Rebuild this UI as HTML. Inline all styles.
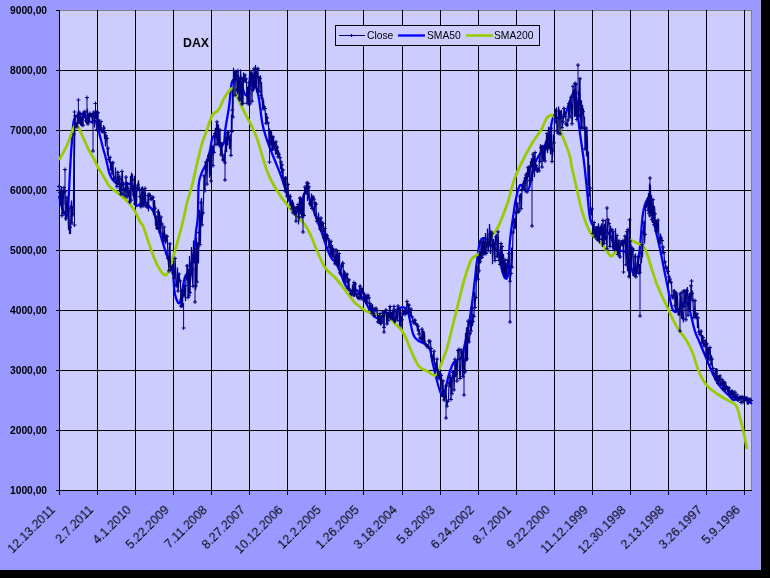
<!DOCTYPE html>
<html><head><meta charset="utf-8"><style>
html,body{margin:0;padding:0;}
div{-webkit-font-smoothing:antialiased;will-change:transform;}
body{width:770px;height:578px;background:#000;position:relative;overflow:hidden;font-family:"Liberation Sans",sans-serif;}
#bg{position:absolute;left:0;top:0;width:761px;height:570px;background:#9999FF;}
svg{position:absolute;left:0;top:0;}
.yl{position:absolute;right:723.2px;font-weight:bold;font-size:10.25px;line-height:12px;color:#000;white-space:nowrap;}
.xl{position:absolute;font-size:12.4px;line-height:12.4px;color:#000;white-space:nowrap;transform-origin:100% 50%;transform:translateY(-50%) rotate(-45deg);}
#title{position:absolute;left:183.3px;top:36px;font-weight:bold;font-size:12.3px;line-height:14px;color:#000;}
.lg{position:absolute;top:30px;font-size:10.3px;line-height:12px;color:#000;white-space:nowrap;}
</style></head><body>
<div id="bg"></div>
<svg width="770" height="578" viewBox="0 0 770 578">
<rect x="59.5" y="10.5" width="692" height="480" fill="#CCCCFF" stroke="#808080" stroke-width="1"/>
<path d="M59 70.5H751 M59 130.5H751 M59 190.5H751 M59 250.5H751 M59 310.5H751 M59 370.5H751 M59 430.5H751 M97.5 10V490 M135.5 10V490 M173.5 10V490 M211.5 10V490 M249.5 10V490 M287.5 10V490 M325.5 10V490 M363.5 10V490 M402.5 10V490 M440.5 10V490 M478.5 10V490 M516.5 10V490 M554.5 10V490 M592.5 10V490 M630.5 10V490 M668.5 10V490 M706.5 10V490 M744.5 10V490" stroke="#000" stroke-width="1" fill="none"/>
<path d="M59.5 10V491M59 490.5H752 M56 10.5H59 M56 70.5H59 M56 130.5H59 M56 190.5H59 M56 250.5H59 M56 310.5H59 M56 370.5H59 M56 430.5H59 M56 490.5H59 M59.5 490V495 M97.5 490V495 M135.5 490V495 M173.5 490V495 M211.5 490V495 M249.5 490V495 M287.5 490V495 M325.5 490V495 M363.5 490V495 M402.5 490V495 M440.5 490V495 M478.5 490V495 M516.5 490V495 M554.5 490V495 M592.5 490V495 M630.5 490V495 M668.5 490V495 M706.5 490V495 M744.5 490V495" stroke="#000" stroke-width="1" fill="none"/>
<path d="M59 196 C59.4 197.5 60.3 202.2 61.2 205 C62.1 207.8 63.2 211.4 64.3 213 C65.3 214.6 66.7 218.2 67.5 214.5 C68.3 210.8 68.5 200.1 69 191 C69.5 181.9 70.1 168.5 70.6 160 C71.1 151.5 71.5 146.5 72 140 C72.5 133.5 72.9 125.2 73.7 121.2 C74.5 117.2 75.4 116.9 76.8 115.7 C78.2 114.5 80.7 113.7 82.3 114.2 C83.9 114.8 84.8 117.7 86.2 119 C87.6 120.3 89.4 121.6 90.9 122 C92.5 122.4 94.3 120.2 95.5 121.2 C96.7 122.2 97.1 125.4 97.9 128.2 C98.7 131 99.7 134.7 100.5 138 C101.3 141.3 102.1 144.5 103 148 C103.9 151.5 104.8 154.2 106 158.8 C107.2 163.4 108.4 171.2 110.2 175.4 C112 179.6 114.1 182.3 117.1 183.7 C120.1 185.1 125.6 183.2 128.2 183.7 C130.8 184.1 131.2 182.9 132.4 186.4 C133.6 189.9 134.3 201.5 135.5 204.5 C136.7 207.5 138.1 205.2 139.4 204.5 C140.7 203.8 141.8 200.4 143.3 200.6 C144.8 200.8 146.8 203.9 148.5 205.8 C150.2 207.7 151.9 208 153.7 212 C155.4 216 156.8 222.9 159 230 C161.2 237.1 164.5 248.5 166.7 254.8 C168.9 261.1 171.1 262.1 172.4 268 C173.7 273.9 173.7 285 174.3 290 C174.9 295 175.1 295.9 176 298 C176.9 300.1 178.5 305.8 180 302.4 C181.5 299 183.2 283 184.8 277.6 C186.4 272.2 187.9 274.8 189.5 270 C191.1 265.2 193.2 255.7 194.3 249 C195.4 242.3 195.6 235.5 196.2 230 C196.8 224.5 197.5 223.5 197.9 216 C198.3 208.5 198 192.3 198.7 185 C199.4 177.7 200.7 175.7 201.9 172.3 C203.1 168.9 204.5 167.9 205.8 164.5 C207.1 161.1 208.6 155.9 209.7 151.6 C210.8 147.3 211.2 141.3 212.3 138.6 C213.4 135.9 214.9 134 216.2 135.3 C217.5 136.6 218.8 145.2 220.1 146.4 C221.4 147.6 223.1 145.3 224 142.5 C224.9 139.7 224.5 135.4 225.3 129.5 C226.1 123.6 227.9 114.7 229 107 C230.1 99.3 230.7 88.1 231.6 83.6 C232.5 79 232.9 80.3 234.2 79.7 C235.5 79.1 238.1 78.6 239.4 79.7 C240.7 80.8 240.9 83.6 242 86.2 C243.1 88.8 244.5 95.5 245.8 95.3 C247.1 95.1 248.6 87.6 249.7 84.9 C250.8 82.2 251.4 79.4 252.3 79 C253.2 78.6 253.8 79.1 254.9 82.3 C256 85.5 257.5 90.8 258.8 97.9 C260.1 105 261.1 117.4 262.7 125 C264.3 132.6 266.2 137.7 268.2 143.5 C270.2 149.3 272.6 154.7 274.7 160 C276.8 165.3 278.8 169.9 280.9 175.6 C283 181.3 285.3 189.1 287.1 194.3 C288.9 199.5 290.5 203.3 291.8 206.7 C293.1 210.1 293.6 214.5 294.9 214.5 C296.2 214.5 298 210.1 299.6 206.7 C301.2 203.3 303 196.5 304.3 194.3 C305.6 192.1 306.2 191.9 307.4 193.5 C308.6 195.1 309.8 199.3 311.3 203.6 C312.9 207.9 315 214.5 316.7 219.2 C318.4 223.9 319.8 227.3 321.4 231.7 C323 236.1 324.5 241.4 326.1 245.7 C327.7 249.9 329.2 254.2 330.8 257.2 C332.4 260.1 334.4 261 336 263.4 C337.6 265.8 338.6 268.1 340.1 271.7 C341.7 275.3 343.4 281.7 345.3 285 C347.2 288.3 349.4 290.5 351.3 291.3 C353.2 292.1 355 289.4 356.5 290 C358 290.6 358.8 292.8 360.4 295 C362 297.2 364.1 299.9 366 303 C367.9 306.1 369.9 311.3 372.1 313.9 C374.3 316.5 377.2 318.5 379.4 318.7 C381.6 318.9 383.2 316.1 385.4 315.1 C387.6 314.1 390.3 313.9 392.7 312.7 C395.1 311.5 398 308.6 400 307.8 C402 307 403.4 306.8 404.8 307.8 C406.2 308.8 407 309.4 408.4 313.9 C409.8 318.3 411.7 330.1 413.3 334.5 C414.9 338.9 416.1 338.9 418.1 340.5 C420.1 342.1 423.4 342.6 425.4 344.2 C427.4 345.8 428.9 346.6 430.2 350 C431.5 353.4 431.1 357.2 433.1 364.9 C435.1 372.6 439.6 394.4 442.2 396.1 C444.8 397.8 446.8 380.9 448.7 375.3 C450.6 369.7 451.7 365.3 453.9 362.3 C456.1 359.3 460 359.7 461.7 357.1 C463.4 354.5 463 352.9 464.3 346.8 C465.6 340.8 467.9 330.3 469.5 320.8 C471.1 311.3 472.5 299.8 473.7 290 C474.9 280.2 475.8 270.3 476.8 262.3 C477.8 254.3 478.7 246 479.9 242 C481.1 238 482.5 238.3 483.8 238.2 C485.1 238.1 486.3 239.9 487.7 241.3 C489.1 242.7 490.6 244.8 492.4 246.7 C494.2 248.6 497.1 249.3 498.6 252.9 C500.2 256.5 500.7 264.3 501.7 268.5 C502.7 272.7 503.8 276.8 504.8 277.9 C505.9 278.9 507.2 280 508 274.8 C508.8 269.6 509 254 509.5 246.7 C510 239.4 510.3 237.4 511.1 231.2 C511.9 225 513.4 214.5 514.2 209.3 C515 204.1 514.7 204.1 515.7 200 C516.7 195.9 518.2 186.6 520.3 185 C522.4 183.4 525.7 193.8 528.1 190.3 C530.5 186.9 531.9 171.7 534.6 164.3 C537.3 157 542 151.5 544.5 146.2 C547 140.9 548.3 137.4 549.7 132.7 C551.1 128 551.6 120.5 553 118 C554.4 115.5 556.1 118.3 558 118 C559.9 117.7 562.6 118.6 564.5 116 C566.4 113.4 567.7 106.6 569.4 102.3 C571.1 98 573.5 90.9 574.6 90.2 C575.8 89.5 575.7 93.8 576.3 98 C576.9 102.2 577.4 109.7 578 115.3 C578.6 120.9 578.8 123.9 579.8 131.7 C580.8 139.4 582.8 152.1 584 161.8 C585.2 171.5 586 180.6 587 190 C588 199.4 588.7 211.8 590 218 C591.3 224.2 592.6 225.6 594.7 227.4 C596.8 229.2 599.9 227.6 602.5 228.9 C605.1 230.2 608.1 231.8 610.2 235.2 C612.3 238.6 613.3 246.6 614.9 249.2 C616.5 251.8 617.8 250.2 619.6 250.7 C621.4 251.2 624 250 625.8 252.3 C627.6 254.7 629.2 261.2 630.5 264.8 C631.8 268.4 632.6 273.6 633.6 274.1 C634.6 274.6 635.7 272 636.7 267.9 C637.7 263.8 638.8 258.3 639.8 249.2 C640.8 240.1 641.7 221.7 643 213.4 C644.3 205.1 646.4 200.9 647.6 199.3 C648.8 197.7 648.7 199.1 650 204 C651.3 208.9 653.7 221.4 655.4 228.9 C657.1 236.4 658.8 243.2 660.1 249.2 C661.4 255.2 662.2 259.7 663.2 264.8 C664.2 269.9 664.7 272.6 666.3 280 C667.9 287.4 670.5 304.6 672.6 309.5 C674.7 314.4 676.9 310.8 679.1 309.5 C681.3 308.2 683.9 301.7 685.6 301.7 C687.3 301.7 688 304.7 689.5 309.5 C691 314.3 693 324.7 694.7 330.3 C696.4 335.9 698 338.3 699.9 343 C701.8 347.7 704.2 353.4 706.4 358.6 C708.6 363.8 710.5 369.4 712.9 374.2 C715.3 378.9 718 383.7 720.6 387.1 C723.2 390.6 726.2 392.7 728.4 394.9 C730.6 397.1 731.9 399.7 733.6 400.1 C735.3 400.5 736.6 397.7 738.8 397.5 C741 397.3 744.4 397.7 746.6 398.8 C748.8 399.9 750.9 403.1 751.8 404" stroke="#0000FF" stroke-width="2.3" fill="none" stroke-linejoin="round"/>
<path d="M59 160 C60.3 157.7 64 151.8 66.7 146 C69.4 140.2 72.9 127.5 75.3 125.3 C77.7 123.1 78.8 128.9 81 133 C83.2 137.1 86.6 145.7 88.8 150 C91 154.3 92.5 156.2 94 159 C95.5 161.8 96 163.5 97.9 167 C99.8 170.5 103.7 176.8 105.6 180 C107.5 183.2 107.8 184.5 109.5 186.4 C111.2 188.3 113.6 189.7 116 191.6 C118.4 193.5 121.4 195.8 123.8 198 C126.2 200.2 128.4 202.1 130.3 204.5 C132.2 206.9 133.8 209.2 135.5 212.3 C137.2 215.4 139.4 220.7 140.7 223 C142 225.3 141.6 222 143.3 226.4 C145 230.8 148.5 242.8 151.1 249.7 C153.7 256.6 156.3 263.9 158.9 268 C161.5 272.1 164.1 277 166.7 274.4 C169.3 271.8 171.9 260.7 174.5 252.3 C177.1 243.9 180.1 232.4 182.3 223.8 C184.5 215.2 185.8 207.5 187.5 201 C189.2 194.5 190.6 191.1 192.2 185 C193.8 178.9 195.2 171.4 196.8 164.5 C198.4 157.6 200.2 149.6 201.9 143.8 C203.6 138 205.4 134.3 207.1 129.5 C208.8 124.7 210.4 118.5 212.3 115.2 C214.2 111.9 216.5 112.6 218.6 109.5 C220.7 106.4 222.9 100.1 225.1 96.6 C227.3 93.1 230 89.4 231.6 88.5 C233.2 87.6 233.3 88.8 234.8 91.4 C236.3 94.1 238.6 100.1 240.6 104.4 C242.6 108.7 244.9 113 247.1 117.3 C249.3 121.6 251.8 126.1 253.6 130 C255.4 133.9 255.8 134.8 257.8 140.9 C259.8 147.1 263.6 160.7 265.6 166.9 C267.6 173.1 267.7 173.4 270 178 C272.3 182.6 276.2 189.5 279.3 194.3 C282.4 199.1 285.8 203.1 288.7 206.7 C291.6 210.3 293.9 213.2 296.5 216.1 C299.1 219 302 220.8 304.3 223.9 C306.6 227 308.4 230.5 310.5 234.8 C312.6 239.2 314.2 244.5 316.7 250 C319.2 255.5 322.1 263.3 325.3 268 C328.5 272.7 332.2 274.4 335.7 278.3 C339.2 282.2 342.6 287 346.1 291.3 C349.6 295.6 352.2 300.5 356.5 304.3 C360.8 308.1 367.5 312.1 372.1 313.9 C376.7 315.7 381.2 314.3 384.2 315.1 C387.2 315.9 388.3 317.1 390.3 318.7 C392.3 320.3 394.5 323 396.3 324.8 C398.1 326.6 399.6 327.4 401.2 329.6 C402.8 331.8 404.4 334.7 406 338.1 C407.6 341.5 408.7 345.3 410.8 350 C412.9 354.7 416 362.6 418.8 366.2 C421.6 369.8 425.1 369.9 427.9 371.4 C430.7 372.9 433.5 376.4 435.7 375.3 C437.9 374.2 438.9 369.6 440.9 364.9 C442.8 360.1 445.2 354.1 447.4 346.8 C449.6 339.5 451.9 328.6 453.9 320.8 C455.8 313 457.6 306.2 459.1 300 C460.7 293.8 461.2 290.1 463.2 283.5 C465.2 276.9 468.4 265.1 471 260.1 C473.6 255.1 476.2 256.6 478.8 253.6 C481.4 250.6 483.6 246 486.6 241.9 C489.6 237.8 494 234.2 497 229 C500 223.8 502.8 215.6 504.7 210.8 C506.6 206 506.9 205.6 508.6 200 C510.3 194.4 512.2 184.9 515.1 177.3 C518 169.7 522.6 160.7 525.8 154.5 C529 148.3 531.5 144.2 534.1 140 C536.7 135.8 539.3 133.2 541.4 129.5 C543.5 125.8 545 120.4 546.6 118.1 C548.2 115.8 549.5 115.8 550.7 115.5 C551.9 115.2 552.6 114.3 553.8 116 C555 117.7 556.4 121.8 558 125.4 C559.6 129.1 561.3 133.1 563.2 137.9 C565.1 142.8 567.9 149.2 569.4 154.5 C570.9 159.8 571 163.6 572.3 169.5 C573.6 175.4 575.3 182.7 577 190 C578.7 197.3 580.5 206.4 582.7 213.4 C584.9 220.4 587.5 227.6 590 232 C592.5 236.4 595.2 236.9 597.8 239.8 C600.4 242.7 603.4 246.5 605.6 249.2 C607.8 251.9 609.2 255.9 611 256.2 C612.8 256.4 614.5 252.9 616.5 250.7 C618.5 248.5 620.6 244.8 622.7 243 C624.8 241.2 626.6 239.8 628.9 239.8 C631.2 239.8 634.4 241.9 636.7 243 C639.1 244.1 641.2 244 643 246.1 C644.8 248.2 646.4 252.2 647.6 255.4 C648.9 258.6 649.1 260.8 650.5 265 C651.9 269.2 653.8 275.7 655.7 280.9 C657.6 286.1 659.8 291 662 296 C664.2 301 666.5 305.8 669 311 C671.5 316.2 674.1 322.2 677 327 C679.9 331.8 683.6 335.8 686.2 340 C688.8 344.2 690.4 347.3 692.5 352.5 C694.6 357.7 696.3 365.7 698.7 371.2 C701.1 376.7 703.9 381.9 707 385.7 C710.1 389.5 713.9 391.6 717.4 394 C720.9 396.4 724.7 398.4 727.8 400.3 C730.9 402.2 734 402.4 736.1 405.5 C738.2 408.6 738.9 414 740.3 419 C741.7 424 743.3 430.6 744.4 435.6 C745.5 440.6 746.5 446.9 746.9 449.1" stroke="#99CC00" stroke-width="2.8" fill="none" stroke-linejoin="round"/>
<path d="M59 186.5 L59.5 185.2 L60 192.4 L60.5 205 L61 196.7 L61.5 186.3 L62 215.7 L62.5 189.5 L63 213.2 L63.5 193.3 L64 187.5 L64.5 193 L65 191.8 L65.5 220.7 L66 218.3 L66.5 204.3 L67 197.4 L67.5 202.3 L68 211.8 L68.5 230.1 L69 208.9 L69.5 234 L70 227.3 L70.5 234.1 L71 206.8 L71.5 200.5 L72 223 L72.5 206.6 L73 214.7 L73.5 199.7 L74 134 L74.5 156.9 L75 116 L75.5 128 L76 124.1 L76.5 124.3 L77 126.9 L77.5 113.4 L78 122.9 L78.5 116.5 L79 112.2 L79.5 124 L80 113.6 L80.5 125 L81 116.6 L81.5 125.1 L82 125 L82.5 115.8 L83 125.3 L83.5 111.8 L84 112.2 L84.5 116.5 L85 111.7 L85.5 113.9 L86 120.8 L86.5 123.2 L87 121.8 L87.5 108.5 L88 123.9 L88.5 123.7 L89 114.9 L89.5 121.5 L90 113.4 L90.5 114.8 L91 115.2 L91.5 115.1 L92 116.2 L92.5 124.2 L93 113.4 L93.5 114.9 L94 112.1 L94.5 127.6 L95 117.3 L95.5 110.1 L96 112.8 L96.5 112.1 L97 129.4 L97.5 113.3 L98 112.8 L98.5 130.5 L99 127.8 L99.5 119.3 L100 129.5 L100.5 129.9 L101 121.5 L101.5 131.8 L102 131 L102.5 132.4 L103 131.3 L103.5 125.2 L104 128.1 L104.5 139 L105 132.7 L105.5 146.4 L106 135.8 L106.5 136.3 L107 138.4 L107.5 155.6 L108 148.2 L108.5 159 L109 159.3 L109.5 162.9 L110 157.3 L110.5 167.1 L111 169.3 L111.5 161.5 L112 173.8 L112.5 161.6 L113 162.8 L113.5 177.4 L114 179.2 L114.5 178.7 L115 178.2 L115.5 167.4 L116 181.8 L116.5 186.3 L117 186.6 L117.5 171 L118 172.6 L118.5 184.6 L119 176.2 L119.5 191.9 L120 178.5 L120.5 193.3 L121 194 L121.5 186.3 L122 171.4 L122.5 174 L123 194.1 L123.5 181.9 L124 189.5 L124.5 188.1 L125 195.8 L125.5 190.8 L126 177.1 L126.5 188.2 L127 197 L127.5 181.8 L128 188.5 L128.5 196.6 L129 191.3 L129.5 202.5 L130 201.8 L130.5 175.7 L131 200.1 L131.5 172.6 L132 179.5 L132.5 173.9 L133 189.8 L133.5 195.9 L134 195 L134.5 175.7 L135 203.8 L135.5 205.9 L136 190.4 L136.5 205.9 L137 187.8 L137.5 185.2 L138 185.1 L138.5 180.3 L139 189.5 L139.5 186.7 L140 196.6 L140.5 207 L141 206.7 L141.5 187.3 L142 203.9 L142.5 186.3 L143 205.6 L143.5 189.1 L144 205.6 L144.5 202.8 L145 188.3 L145.5 193.8 L146 205.5 L146.5 205.3 L147 207.1 L147.5 208.3 L148 195.6 L148.5 211.5 L149 194 L149.5 196.1 L150 195.6 L150.5 196.9 L151 199.3 L151.5 199.7 L152 198.5 L152.5 196.7 L153 197.2 L153.5 215.3 L154 208.7 L154.5 200.1 L155 208.2 L155.5 226 L156 216.9 L156.5 229.6 L157 227.9 L157.5 224.8 L158 211.9 L158.5 209.1 L159 229.1 L159.5 211.9 L160 232 L160.5 230.5 L161 217 L161.5 223.2 L162 224 L162.5 239.8 L163 233.8 L163.5 242.4 L164 227.1 L164.5 230.5 L165 240.5 L165.5 244.1 L166 235.9 L166.5 242.3 L167 236.4 L167.5 241.3 L168 258.4 L168.5 264.7 L169 270.8 L169.5 247.1 L170 243.8 L170.5 266.8 L171 270.5 L171.5 265.8 L172 268.7 L172.5 264.3 L173 273.2 L173.5 275.2 L174 278.3 L174.5 277 L175 258.4 L175.5 266 L176 285.3 L176.5 283 L177 286.1 L177.5 267.5 L178 291 L178.5 287.3 L179 274.1 L179.5 278.8 L180 280.9 L180.5 282.2 L181 306.2 L181.5 290.2 L182 306.1 L182.5 306 L183 289.5 L183.5 293.6 L184 295.9 L184.5 286.2 L185 285.7 L185.5 301.3 L186 276.8 L186.5 280.3 L187 265.9 L187.5 264.3 L188 297.6 L188.5 269.3 L189 295.8 L189.5 256 L190 292.7 L190.5 278.9 L191 273.6 L191.5 246.9 L192 269.8 L192.5 281.1 L193 286.4 L193.5 240.4 L194 262.2 L194.5 248 L195 249.5 L195.5 290.5 L196 285.9 L196.5 237.3 L197 282 L197.5 242.3 L198 246.8 L198.5 263.5 L199 232.6 L199.5 209.8 L200 244.6 L200.5 241.7 L201 202.8 L201.5 198 L202 224.9 L202.5 216.6 L203 212.8 L203.5 200.2 L204 175.8 L204.5 180.6 L205 190.7 L205.5 162.4 L206 162.3 L206.5 165.8 L207 184.1 L207.5 160.3 L208 159.5 L208.5 161.3 L209 155.5 L209.5 177.7 L210 155.2 L210.5 175.6 L211 152.7 L211.5 149.3 L212 146.5 L212.5 146.5 L213 165.7 L213.5 145.2 L214 152.3 L214.5 137.7 L215 133.5 L215.5 127.9 L216 144.5 L216.5 124.1 L217 121.9 L217.5 128.6 L218 144.3 L218.5 124.3 L219 143.8 L219.5 135.8 L220 130 L220.5 152 L221 154.9 L221.5 142.1 L222 143.9 L222.5 159.4 L223 160 L223.5 160.6 L224 155.2 L224.5 160.6 L225 162.8 L225.5 139.9 L226 137.7 L226.5 152.2 L227 132.8 L227.5 145.4 L228 132.4 L228.5 130.1 L229 138.3 L229.5 149.2 L230 140.5 L230.5 134.2 L231 155.4 L231.5 114.6 L232 131.5 L232.5 89.8 L233 117 L233.5 67.8 L234 79.8 L234.5 71.2 L235 95.2 L235.5 70.3 L236 71.6 L236.5 70.5 L237 90 L237.5 94.3 L238 70.7 L238.5 76.7 L239 98.2 L239.5 76.7 L240 100.2 L240.5 69.4 L241 77.7 L241.5 101 L242 104 L242.5 77.1 L243 103.3 L243.5 72.5 L244 81.1 L244.5 80.5 L245 75 L245.5 82.7 L246 78.9 L246.5 81.3 L247 103.3 L247.5 86.9 L248 88.4 L248.5 105.5 L249 82.7 L249.5 74.5 L250 103.9 L250.5 72.7 L251 72.2 L251.5 75.2 L252 101.2 L252.5 72.9 L253 89.8 L253.5 90.3 L254 68.8 L254.5 88.9 L255 86.1 L255.5 65.1 L256 75.9 L256.5 92.3 L257 69.5 L257.5 77.8 L258 68.7 L258.5 89.9 L259 91.6 L259.5 76.2 L260 78.4 L260.5 75.3 L261 95.7 L261.5 81.9 L262 98.1 L262.5 106.4 L263 108.9 L263.5 99.4 L264 106.8 L264.5 107.1 L265 108.5 L265.5 117.9 L266 123.3 L266.5 113 L267 118 L267.5 122.3 L268 123 L268.5 124.9 L269 140.9 L269.5 128.6 L270 144.9 L270.5 129.8 L271 143.6 L271.5 130.8 L272 149 L272.5 151 L273 136.9 L273.5 136.7 L274 148.9 L274.5 141.7 L275 144.5 L275.5 154.7 L276 141.9 L276.5 154.4 L277 147.4 L277.5 146.5 L278 156.8 L278.5 150.2 L279 154.2 L279.5 155.1 L280 157.8 L280.5 168.9 L281 161.9 L281.5 173.2 L282 164.8 L282.5 179.1 L283 169.9 L283.5 185.3 L284 181.9 L284.5 176.7 L285 191 L285.5 176.5 L286 178.1 L286.5 195.3 L287 196.1 L287.5 197.4 L288 184.4 L288.5 194.6 L289 199.4 L289.5 197.6 L290 196.5 L290.5 194.4 L291 204.6 L291.5 200.6 L292 208.8 L292.5 199.8 L293 212.8 L293.5 202.6 L294 207.3 L294.5 215.5 L295 208.2 L295.5 208 L296 221.2 L296.5 206 L297 208.9 L297.5 208 L298 204.6 L298.5 224.4 L299 216.9 L299.5 197.9 L300 198 L300.5 214.7 L301 199.7 L301.5 215.1 L302 217.2 L302.5 201.2 L303 215 L303.5 192.7 L304 215.4 L304.5 189.4 L305 187 L305.5 193.3 L306 192.4 L306.5 183.2 L307 182.8 L307.5 201.2 L308 183.3 L308.5 189.3 L309 186.9 L309.5 205.1 L310 203.7 L310.5 205.6 L311 205.7 L311.5 193.5 L312 208.4 L312.5 198 L313 196.9 L313.5 199.4 L314 199.1 L314.5 215.8 L315 202.8 L315.5 204.8 L316 204.2 L316.5 220.7 L317 221.4 L317.5 221.4 L318 218.1 L318.5 212.5 L319 221.1 L319.5 226.8 L320 228.9 L320.5 218.2 L321 218.1 L321.5 227.6 L322 231.1 L322.5 222.4 L323 223.3 L323.5 226.2 L324 237.9 L324.5 236.9 L325 228.5 L325.5 230.9 L326 235.3 L326.5 244.8 L327 235.7 L327.5 234.9 L328 238.7 L328.5 239.6 L329 247.3 L329.5 239.5 L330 244.5 L330.5 254.6 L331 241.3 L331.5 253.5 L332 256.5 L332.5 245 L333 256.8 L333.5 247.8 L334 250.6 L334.5 260.8 L335 263.8 L335.5 258.5 L336 249.9 L336.5 265 L337 261.7 L337.5 251 L338 264.9 L338.5 266.5 L339 253.6 L339.5 256.1 L340 272.8 L340.5 271.4 L341 274.2 L341.5 264.9 L342 265.9 L342.5 262.3 L343 263.3 L343.5 278.1 L344 280.1 L344.5 270.3 L345 274 L345.5 279.1 L346 282.2 L346.5 275.2 L347 274.4 L347.5 276.8 L348 288.6 L348.5 279.1 L349 279.9 L349.5 291.3 L350 290.2 L350.5 293.8 L351 293.7 L351.5 294.8 L352 294.4 L352.5 284.3 L353 293.3 L353.5 296.7 L354 282.5 L354.5 297.1 L355 284 L355.5 283.5 L356 294.5 L356.5 295.9 L357 294.2 L357.5 297 L358 297.7 L358.5 297.7 L359 298.4 L359.5 287.2 L360 286.2 L360.5 298.1 L361 298.6 L361.5 289.7 L362 288.7 L362.5 290 L363 292.8 L363.5 291.4 L364 300.3 L364.5 293 L365 297.7 L365.5 300.6 L366 295.5 L366.5 303 L367 302.8 L367.5 295.3 L368 295.3 L368.5 296.7 L369 297.8 L369.5 309.2 L370 303.4 L370.5 309.7 L371 305.3 L371.5 311.7 L372 313.3 L372.5 304 L373 309.1 L373.5 313.4 L374 315.7 L374.5 316.5 L375 309.4 L375.5 310.4 L376 308.2 L376.5 308.4 L377 310.7 L377.5 316 L378 321.9 L378.5 315.1 L379 322.1 L379.5 321.4 L380 313.6 L380.5 324.2 L381 323.6 L381.5 315.4 L382 321.8 L382.5 316.1 L383 312 L383.5 312.8 L384 327.3 L384.5 310.5 L385 312.5 L385.5 310 L386 310.1 L386.5 322.2 L387 323.9 L387.5 311.7 L388 320.8 L388.5 311.9 L389 317.7 L389.5 308.4 L390 306.6 L390.5 320.1 L391 314.3 L391.5 311.7 L392 318.1 L392.5 320.5 L393 310.4 L393.5 321.1 L394 306.4 L394.5 323.3 L395 321 L395.5 320.6 L396 310.6 L396.5 319.7 L397 309.5 L397.5 321.5 L398 305.9 L398.5 310.5 L399 309 L399.5 324.9 L400 320.6 L400.5 308.4 L401 325.7 L401.5 316.3 L402 319.8 L402.5 312.9 L403 313.3 L403.5 314.2 L404 311.7 L404.5 309.4 L405 314.4 L405.5 311.9 L406 312.6 L406.5 314.3 L407 301.4 L407.5 304.6 L408 304.9 L408.5 312.3 L409 305.1 L409.5 314.1 L410 312.3 L410.5 316 L411 309 L411.5 317.2 L412 316.8 L412.5 317.5 L413 321.3 L413.5 320.9 L414 323.2 L414.5 319.4 L415 320.2 L415.5 322.8 L416 324 L416.5 324.5 L417 324.8 L417.5 331.4 L418 326.3 L418.5 329.4 L419 334 L419.5 329.2 L420 338.1 L420.5 338.4 L421 338.7 L421.5 339.7 L422 329.1 L422.5 341.7 L423 331.8 L423.5 331.5 L424 342.2 L424.5 332.6 L425 343.5 L425.5 344.9 L426 344.7 L426.5 346.1 L427 346.4 L427.5 345.8 L428 346.9 L428.5 348.5 L429 340.9 L429.5 340.9 L430 341.3 L430.5 343 L431 348.5 L431.5 355.1 L432 356.6 L432.5 355.3 L433 359.9 L433.5 353.3 L434 351.2 L434.5 362.6 L435 363.8 L435.5 368.7 L436 370.7 L436.5 363.7 L437 359.1 L437.5 371.9 L438 376.2 L438.5 369.2 L439 378.5 L439.5 371 L440 378.3 L440.5 371.8 L441 375.5 L441.5 374.9 L442 395.1 L442.5 395.4 L443 380.9 L443.5 394.8 L444 400 L444.5 400 L445 396.6 L445.5 386.6 L446 386 L446.5 401.8 L447 406.2 L447.5 401.9 L448 401.2 L448.5 399.3 L449 382.5 L449.5 387.3 L450 377.5 L450.5 374.4 L451 399.4 L451.5 376.7 L452 393.7 L452.5 369.8 L453 372.4 L453.5 371.3 L454 389.9 L454.5 379.8 L455 359.3 L455.5 377.2 L456 364.8 L456.5 361.2 L457 381 L457.5 362.1 L458 350.6 L458.5 352.7 L459 349.4 L459.5 373.2 L460 378.5 L460.5 376.9 L461 349.9 L461.5 353.8 L462 352.9 L462.5 375.2 L463 376.7 L463.5 347.9 L464 370 L464.5 372.9 L465 371.8 L465.5 332.7 L466 360.2 L466.5 327.3 L467 358.9 L467.5 358.5 L468 321.1 L468.5 342.2 L469 341.9 L469.5 340.5 L470 333.7 L470.5 319.9 L471 331 L471.5 328.4 L472 308 L472.5 326.2 L473 321.4 L473.5 314.1 L474 316.4 L474.5 291.6 L475 307.4 L475.5 298.7 L476 297.5 L476.5 272.2 L477 267.1 L477.5 277.5 L478 279.2 L478.5 274.4 L479 270.8 L479.5 250.6 L480 261.8 L480.5 262.2 L481 242.2 L481.5 258.9 L482 257.3 L482.5 240.2 L483 254.1 L483.5 237.1 L484 253.5 L484.5 240.7 L485 253.3 L485.5 233 L486 253.5 L486.5 243.7 L487 245.9 L487.5 228.6 L488 250.9 L488.5 247.3 L489 244.9 L489.5 223.9 L490 234.2 L490.5 254 L491 231.9 L491.5 238.4 L492 233.3 L492.5 264.2 L493 246.4 L493.5 238.9 L494 243.4 L494.5 258.1 L495 260.5 L495.5 235.7 L496 236.9 L496.5 234.2 L497 256.5 L497.5 257 L498 231.9 L498.5 239.9 L499 260.4 L499.5 254.3 L500 264.4 L500.5 246.8 L501 243.5 L501.5 269.9 L502 246.5 L502.5 253.9 L503 271.9 L503.5 254 L504 271.7 L504.5 275.9 L505 259.8 L505.5 277.4 L506 264 L506.5 277.4 L507 266.7 L507.5 262 L508 260.5 L508.5 258 L509 253.6 L509.5 254.8 L510 281.2 L510.5 277.8 L511 273.3 L511.5 247.5 L512 267.1 L512.5 255.6 L513 232 L513.5 234.2 L514 221.9 L514.5 218.1 L515 227.6 L515.5 227.8 L516 212.6 L516.5 206.8 L517 203.8 L517.5 205.7 L518 212.3 L518.5 212.3 L519 211.1 L519.5 196.4 L520 196.1 L520.5 193.3 L521 208.7 L521.5 206.9 L522 189.4 L522.5 184.5 L523 186.1 L523.5 180.5 L524 183.6 L524.5 176.7 L525 190.4 L525.5 181.3 L526 175 L526.5 172.3 L527 192 L527.5 170.7 L528 167.7 L528.5 177.3 L529 167 L529.5 184.9 L530 180.5 L530.5 160.9 L531 166.5 L531.5 158.1 L532 162 L532.5 181.1 L533 154.2 L533.5 164.2 L534 156.5 L534.5 177.2 L535 152.6 L535.5 169.9 L536 165.6 L536.5 164.4 L537 170.6 L537.5 172.7 L538 168.7 L538.5 169.2 L539 170.9 L539.5 156.7 L540 161.4 L540.5 144.3 L541 147.4 L541.5 145.4 L542 167.1 L542.5 145.3 L543 146.7 L543.5 161.4 L544 158.3 L544.5 145.3 L545 161 L545.5 140.7 L546 149.3 L546.5 135.8 L547 133.6 L547.5 153.1 L548 144.9 L548.5 126.8 L549 148.1 L549.5 130.4 L550 140.8 L550.5 154.4 L551 128.1 L551.5 128.1 L552 161.6 L552.5 155.7 L553 149.9 L553.5 134.5 L554 142.9 L554.5 119.4 L555 115.2 L555.5 108.7 L556 122.1 L556.5 107.5 L557 131 L557.5 127.7 L558 133.2 L558.5 106.5 L559 111.1 L559.5 111.9 L560 133.9 L560.5 110.9 L561 114.9 L561.5 109.7 L562 127.7 L562.5 125.7 L563 121.8 L563.5 116 L564 108.5 L564.5 109.5 L565 116.4 L565.5 111.7 L566 124 L566.5 125.1 L567 125.1 L567.5 125.4 L568 120 L568.5 111.4 L569 103.6 L569.5 114.5 L570 117.1 L570.5 101.6 L571 97.3 L571.5 105.3 L572 123.8 L572.5 119.1 L573 86.3 L573.5 96.4 L574 92.3 L574.5 117 L575 83.3 L575.5 116.5 L576 84.3 L576.5 113.3 L577 119.6 L577.5 101.2 L578 115.2 L578.5 90.7 L579 116 L579.5 78.9 L580 78.7 L580.5 114.1 L581 127.5 L581.5 100.2 L582 128.3 L582.5 104.8 L583 111.6 L583.5 108.6 L584 128 L584.5 116.4 L585 149 L585.5 129.6 L586 127.9 L586.5 156.6 L587 130.4 L587.5 142.8 L588 184.4 L588.5 151.4 L589 195.3 L589.5 164.9 L590 188.1 L590.5 206.2 L591 214 L591.5 210.1 L592 208.9 L592.5 223.6 L593 233.5 L593.5 228 L594 222.5 L594.5 231.2 L595 236.8 L595.5 228.5 L596 235.5 L596.5 226.1 L597 239.1 L597.5 225.9 L598 240.1 L598.5 223.2 L599 239 L599.5 243.4 L600 228.6 L600.5 225.7 L601 234.4 L601.5 223.4 L602 239.4 L602.5 247 L603 220.4 L603.5 244.9 L604 243.3 L604.5 223.8 L605 239.6 L605.5 219.6 L606 237.5 L606.5 241 L607 248.9 L607.5 224.8 L608 219.7 L608.5 220.7 L609 223.6 L609.5 246.5 L610 246.4 L610.5 225.4 L611 230.3 L611.5 231.2 L612 229.7 L612.5 248.6 L613 231.8 L613.5 232.9 L614 249 L614.5 250 L615 244.8 L615.5 228.3 L616 249.2 L616.5 250.8 L617 235.5 L617.5 253.6 L618 254.5 L618.5 241.9 L619 240.8 L619.5 256.8 L620 257 L620.5 243.4 L621 243.3 L621.5 244.6 L622 241.9 L622.5 246.4 L623 240.6 L623.5 263.4 L624 243 L624.5 242.6 L625 236.1 L625.5 241.8 L626 264.8 L626.5 237.2 L627 231.7 L627.5 271.3 L628 229.5 L628.5 269.1 L629 276.7 L629.5 276.9 L630 241.2 L630.5 241.2 L631 246.9 L631.5 268.4 L632 249 L632.5 249.5 L633 249.1 L633.5 268.2 L634 275.2 L634.5 272.8 L635 256.8 L635.5 253.5 L636 276.9 L636.5 273.6 L637 271.1 L637.5 267.4 L638 256.8 L638.5 259.9 L639 273.4 L639.5 264.1 L640 272.3 L640.5 270.8 L641 253 L641.5 263.2 L642 244.6 L642.5 257.2 L643 232.1 L643.5 230.6 L644 222.2 L644.5 243.6 L645 234.4 L645.5 207.5 L646 205.8 L646.5 206.6 L647 202.1 L647.5 196.7 L648 210.2 L648.5 193.1 L649 213.3 L649.5 183.5 L650 215.9 L650.5 185.1 L651 212.7 L651.5 195.3 L652 219.6 L652.5 222.8 L653 199.7 L653.5 207.6 L654 224.7 L654.5 206 L655 213.8 L655.5 227.1 L656 230.9 L656.5 219.9 L657 231.9 L657.5 228.8 L658 220.1 L658.5 221.5 L659 241.7 L659.5 238.9 L660 243.2 L660.5 233.6 L661 237.9 L661.5 238.4 L662 240.5 L662.5 254 L663 247 L663.5 251.8 L664 252.5 L664.5 263.3 L665 262 L665.5 266.2 L666 267.6 L666.5 269.1 L667 267.7 L667.5 274.3 L668 271.5 L668.5 273.8 L669 276.8 L669.5 282.6 L670 279.1 L670.5 283.5 L671 282.2 L671.5 282.6 L672 295.8 L672.5 298 L673 297.9 L673.5 295.6 L674 291.1 L674.5 289.3 L675 305.7 L675.5 310.8 L676 293 L676.5 291.6 L677 310.9 L677.5 294.6 L678 309.7 L678.5 315.5 L679 314.1 L679.5 314 L680 293.9 L680.5 296.9 L681 310.7 L681.5 318.7 L682 292.3 L682.5 315.4 L683 318.3 L683.5 322.5 L684 306.3 L684.5 296.1 L685 291.1 L685.5 292 L686 319.8 L686.5 288.7 L687 290.9 L687.5 287 L688 315.3 L688.5 295.4 L689 309.8 L689.5 294.1 L690 294.2 L690.5 311.6 L691 285.8 L691.5 294.9 L692 293.5 L692.5 290.6 L693 300.5 L693.5 316 L694 317.5 L694.5 313.1 L695 300.6 L695.5 316.1 L696 317.5 L696.5 314.9 L697 313.8 L697.5 328.1 L698 317.8 L698.5 323.7 L699 332.1 L699.5 333.2 L700 334.5 L700.5 331.7 L701 331.2 L701.5 338.9 L702 343.2 L702.5 335 L703 337.5 L703.5 344.3 L704 345.9 L704.5 346 L705 340.8 L705.5 341.5 L706 354.3 L706.5 354.4 L707 343.9 L707.5 357.3 L708 360 L708.5 346.7 L709 358.7 L709.5 347.8 L710 347.6 L710.5 353.7 L711 364.4 L711.5 355.4 L712 359.2 L712.5 368.5 L713 368.4 L713.5 373.8 L714 373.6 L714.5 374.9 L715 376.6 L715.5 368.4 L716 379.6 L716.5 368.4 L717 370.4 L717.5 381.7 L718 383.6 L718.5 375.3 L719 378 L719.5 382.5 L720 375.9 L720.5 385.6 L721 383.9 L721.5 385.9 L722 379.4 L722.5 385.5 L723 388.5 L723.5 380.8 L724 382.2 L724.5 390.5 L725 383 L725.5 391.4 L726 386.5 L726.5 385.6 L727 387.8 L727.5 392.3 L728 388.7 L728.5 394.9 L729 387.9 L729.5 389.9 L730 393.9 L730.5 390.6 L731 394.6 L731.5 389.6 L732 397.5 L732.5 390.9 L733 391.9 L733.5 394.8 L734 396.5 L734.5 399 L735 392.2 L735.5 398.8 L736 399.1 L736.5 398.7 L737 394.8 L737.5 400.6 L738 400 L738.5 400.7 L739 399 L739.5 396.7 L740 397.3 L740.5 396.9 L741 402.4 L741.5 397.4 L742 396.8 L742.5 396.5 L743 402.3 L743.5 398.5 L744 397.7 L744.5 396.9 L745 398 L745.5 401.1 L746 398.5 L746.5 401.7 L747 398 L747.5 403.7 L748 403 L748.5 403.5 L749 400.5 L749.5 399.4 L750 399.1 L750.5 400.2 L751 400.5" stroke="#000080" stroke-width="1.2" fill="none"/>
<path d="M57 186.5h4M59 184.5v4 M58 192.4h4M60 190.4v4 M59 196.7h4M61 194.7v4 M60 215.7h4M62 213.7v4 M61 213.2h4M63 211.2v4 M62 187.5h4M64 185.5v4 M63 191.8h4M65 189.8v4 M64 218.3h4M66 216.3v4 M65 197.4h4M67 195.4v4 M66 211.8h4M68 209.8v4 M67 208.9h4M69 206.9v4 M68 227.3h4M70 225.3v4 M69 206.8h4M71 204.8v4 M70 223h4M72 221v4 M71 214.7h4M73 212.7v4 M72 134h4M74 132v4 M73 116h4M75 114v4 M74 124.1h4M76 122.1v4 M75 126.9h4M77 124.9v4 M76 122.9h4M78 120.9v4 M77 112.2h4M79 110.2v4 M78 113.6h4M80 111.6v4 M79 116.6h4M81 114.6v4 M80 125h4M82 123v4 M81 125.3h4M83 123.3v4 M82 112.2h4M84 110.2v4 M83 111.7h4M85 109.7v4 M84 120.8h4M86 118.8v4 M85 121.8h4M87 119.8v4 M86 123.9h4M88 121.9v4 M87 114.9h4M89 112.9v4 M88 113.4h4M90 111.4v4 M89 115.2h4M91 113.2v4 M90 116.2h4M92 114.2v4 M91 113.4h4M93 111.4v4 M92 112.1h4M94 110.1v4 M93 117.3h4M95 115.3v4 M94 112.8h4M96 110.8v4 M95 129.4h4M97 127.4v4 M96 112.8h4M98 110.8v4 M97 127.8h4M99 125.8v4 M98 129.5h4M100 127.5v4 M99 121.5h4M101 119.5v4 M100 131h4M102 129v4 M101 131.3h4M103 129.3v4 M102 128.1h4M104 126.1v4 M103 132.7h4M105 130.7v4 M104 135.8h4M106 133.8v4 M105 138.4h4M107 136.4v4 M106 148.2h4M108 146.2v4 M107 159.3h4M109 157.3v4 M108 157.3h4M110 155.3v4 M109 169.3h4M111 167.3v4 M110 173.8h4M112 171.8v4 M111 162.8h4M113 160.8v4 M112 179.2h4M114 177.2v4 M113 178.2h4M115 176.2v4 M114 181.8h4M116 179.8v4 M115 186.6h4M117 184.6v4 M116 172.6h4M118 170.6v4 M117 176.2h4M119 174.2v4 M118 178.5h4M120 176.5v4 M119 194h4M121 192v4 M120 171.4h4M122 169.4v4 M121 194.1h4M123 192.1v4 M122 189.5h4M124 187.5v4 M123 195.8h4M125 193.8v4 M124 177.1h4M126 175.1v4 M125 197h4M127 195v4 M126 188.5h4M128 186.5v4 M127 191.3h4M129 189.3v4 M128 201.8h4M130 199.8v4 M129 200.1h4M131 198.1v4 M130 179.5h4M132 177.5v4 M131 189.8h4M133 187.8v4 M132 195h4M134 193v4 M133 203.8h4M135 201.8v4 M134 190.4h4M136 188.4v4 M135 187.8h4M137 185.8v4 M136 185.1h4M138 183.1v4 M137 189.5h4M139 187.5v4 M138 196.6h4M140 194.6v4 M139 206.7h4M141 204.7v4 M140 203.9h4M142 201.9v4 M141 205.6h4M143 203.6v4 M142 205.6h4M144 203.6v4 M143 188.3h4M145 186.3v4 M144 205.5h4M146 203.5v4 M145 207.1h4M147 205.1v4 M146 195.6h4M148 193.6v4 M147 194h4M149 192v4 M148 195.6h4M150 193.6v4 M149 199.3h4M151 197.3v4 M150 198.5h4M152 196.5v4 M151 197.2h4M153 195.2v4 M152 208.7h4M154 206.7v4 M153 208.2h4M155 206.2v4 M154 216.9h4M156 214.9v4 M155 227.9h4M157 225.9v4 M156 211.9h4M158 209.9v4 M157 229.1h4M159 227.1v4 M158 232h4M160 230v4 M159 217h4M161 215v4 M160 224h4M162 222v4 M161 233.8h4M163 231.8v4 M162 227.1h4M164 225.1v4 M163 240.5h4M165 238.5v4 M164 235.9h4M166 233.9v4 M165 236.4h4M167 234.4v4 M166 258.4h4M168 256.4v4 M167 270.8h4M169 268.8v4 M168 243.8h4M170 241.8v4 M169 270.5h4M171 268.5v4 M170 268.7h4M172 266.7v4 M171 273.2h4M173 271.2v4 M172 278.3h4M174 276.3v4 M173 258.4h4M175 256.4v4 M174 285.3h4M176 283.3v4 M175 286.1h4M177 284.1v4 M176 291h4M178 289v4 M177 274.1h4M179 272.1v4 M178 280.9h4M180 278.9v4 M179 306.2h4M181 304.2v4 M180 306.1h4M182 304.1v4 M181 289.5h4M183 287.5v4 M182 295.9h4M184 293.9v4 M183 285.7h4M185 283.7v4 M184 276.8h4M186 274.8v4 M185 265.9h4M187 263.9v4 M186 297.6h4M188 295.6v4 M187 295.8h4M189 293.8v4 M188 292.7h4M190 290.7v4 M189 273.6h4M191 271.6v4 M190 269.8h4M192 267.8v4 M191 286.4h4M193 284.4v4 M192 262.2h4M194 260.2v4 M193 249.5h4M195 247.5v4 M194 285.9h4M196 283.9v4 M195 282h4M197 280v4 M196 246.8h4M198 244.8v4 M197 232.6h4M199 230.6v4 M198 244.6h4M200 242.6v4 M199 202.8h4M201 200.8v4 M200 224.9h4M202 222.9v4 M201 212.8h4M203 210.8v4 M202 175.8h4M204 173.8v4 M203 190.7h4M205 188.7v4 M204 162.3h4M206 160.3v4 M205 184.1h4M207 182.1v4 M206 159.5h4M208 157.5v4 M207 155.5h4M209 153.5v4 M208 155.2h4M210 153.2v4 M209 152.7h4M211 150.7v4 M210 146.5h4M212 144.5v4 M211 165.7h4M213 163.7v4 M212 152.3h4M214 150.3v4 M213 133.5h4M215 131.5v4 M214 144.5h4M216 142.5v4 M215 121.9h4M217 119.9v4 M216 144.3h4M218 142.3v4 M217 143.8h4M219 141.8v4 M218 130h4M220 128v4 M219 154.9h4M221 152.9v4 M220 143.9h4M222 141.9v4 M221 160h4M223 158v4 M222 155.2h4M224 153.2v4 M223 162.8h4M225 160.8v4 M224 137.7h4M226 135.7v4 M225 132.8h4M227 130.8v4 M226 132.4h4M228 130.4v4 M227 138.3h4M229 136.3v4 M228 140.5h4M230 138.5v4 M229 155.4h4M231 153.4v4 M230 131.5h4M232 129.5v4 M231 117h4M233 115v4 M232 79.8h4M234 77.8v4 M233 95.2h4M235 93.2v4 M234 71.6h4M236 69.6v4 M235 90h4M237 88v4 M236 70.7h4M238 68.7v4 M237 98.2h4M239 96.2v4 M238 100.2h4M240 98.2v4 M239 77.7h4M241 75.7v4 M240 104h4M242 102v4 M241 103.3h4M243 101.3v4 M242 81.1h4M244 79.1v4 M243 75h4M245 73v4 M244 78.9h4M246 76.9v4 M245 103.3h4M247 101.3v4 M246 88.4h4M248 86.4v4 M247 82.7h4M249 80.7v4 M248 103.9h4M250 101.9v4 M249 72.2h4M251 70.2v4 M250 101.2h4M252 99.2v4 M251 89.8h4M253 87.8v4 M252 68.8h4M254 66.8v4 M253 86.1h4M255 84.1v4 M254 75.9h4M256 73.9v4 M255 69.5h4M257 67.5v4 M256 68.7h4M258 66.7v4 M257 91.6h4M259 89.6v4 M258 78.4h4M260 76.4v4 M259 95.7h4M261 93.7v4 M260 98.1h4M262 96.1v4 M261 108.9h4M263 106.9v4 M262 106.8h4M264 104.8v4 M263 108.5h4M265 106.5v4 M264 123.3h4M266 121.3v4 M265 118h4M267 116v4 M266 123h4M268 121v4 M267 140.9h4M269 138.9v4 M268 144.9h4M270 142.9v4 M269 143.6h4M271 141.6v4 M270 149h4M272 147v4 M271 136.9h4M273 134.9v4 M272 148.9h4M274 146.9v4 M273 144.5h4M275 142.5v4 M274 141.9h4M276 139.9v4 M275 147.4h4M277 145.4v4 M276 156.8h4M278 154.8v4 M277 154.2h4M279 152.2v4 M278 157.8h4M280 155.8v4 M279 161.9h4M281 159.9v4 M280 164.8h4M282 162.8v4 M281 169.9h4M283 167.9v4 M282 181.9h4M284 179.9v4 M283 191h4M285 189v4 M284 178.1h4M286 176.1v4 M285 196.1h4M287 194.1v4 M286 184.4h4M288 182.4v4 M287 199.4h4M289 197.4v4 M288 196.5h4M290 194.5v4 M289 204.6h4M291 202.6v4 M290 208.8h4M292 206.8v4 M291 212.8h4M293 210.8v4 M292 207.3h4M294 205.3v4 M293 208.2h4M295 206.2v4 M294 221.2h4M296 219.2v4 M295 208.9h4M297 206.9v4 M296 204.6h4M298 202.6v4 M297 216.9h4M299 214.9v4 M298 198h4M300 196v4 M299 199.7h4M301 197.7v4 M300 217.2h4M302 215.2v4 M301 215h4M303 213v4 M302 215.4h4M304 213.4v4 M303 187h4M305 185v4 M304 192.4h4M306 190.4v4 M305 182.8h4M307 180.8v4 M306 183.3h4M308 181.3v4 M307 186.9h4M309 184.9v4 M308 203.7h4M310 201.7v4 M309 205.7h4M311 203.7v4 M310 208.4h4M312 206.4v4 M311 196.9h4M313 194.9v4 M312 199.1h4M314 197.1v4 M313 202.8h4M315 200.8v4 M314 204.2h4M316 202.2v4 M315 221.4h4M317 219.4v4 M316 218.1h4M318 216.1v4 M317 221.1h4M319 219.1v4 M318 228.9h4M320 226.9v4 M319 218.1h4M321 216.1v4 M320 231.1h4M322 229.1v4 M321 223.3h4M323 221.3v4 M322 237.9h4M324 235.9v4 M323 228.5h4M325 226.5v4 M324 235.3h4M326 233.3v4 M325 235.7h4M327 233.7v4 M326 238.7h4M328 236.7v4 M327 247.3h4M329 245.3v4 M328 244.5h4M330 242.5v4 M329 241.3h4M331 239.3v4 M330 256.5h4M332 254.5v4 M331 256.8h4M333 254.8v4 M332 250.6h4M334 248.6v4 M333 263.8h4M335 261.8v4 M334 249.9h4M336 247.9v4 M335 261.7h4M337 259.7v4 M336 264.9h4M338 262.9v4 M337 253.6h4M339 251.6v4 M338 272.8h4M340 270.8v4 M339 274.2h4M341 272.2v4 M340 265.9h4M342 263.9v4 M341 263.3h4M343 261.3v4 M342 280.1h4M344 278.1v4 M343 274h4M345 272v4 M344 282.2h4M346 280.2v4 M345 274.4h4M347 272.4v4 M346 288.6h4M348 286.6v4 M347 279.9h4M349 277.9v4 M348 290.2h4M350 288.2v4 M349 293.7h4M351 291.7v4 M350 294.4h4M352 292.4v4 M351 293.3h4M353 291.3v4 M352 282.5h4M354 280.5v4 M353 284h4M355 282v4 M354 294.5h4M356 292.5v4 M355 294.2h4M357 292.2v4 M356 297.7h4M358 295.7v4 M357 298.4h4M359 296.4v4 M358 286.2h4M360 284.2v4 M359 298.6h4M361 296.6v4 M360 288.7h4M362 286.7v4 M361 292.8h4M363 290.8v4 M362 300.3h4M364 298.3v4 M363 297.7h4M365 295.7v4 M364 295.5h4M366 293.5v4 M365 302.8h4M367 300.8v4 M366 295.3h4M368 293.3v4 M367 297.8h4M369 295.8v4 M368 303.4h4M370 301.4v4 M369 305.3h4M371 303.3v4 M370 313.3h4M372 311.3v4 M371 309.1h4M373 307.1v4 M372 315.7h4M374 313.7v4 M373 309.4h4M375 307.4v4 M374 308.2h4M376 306.2v4 M375 310.7h4M377 308.7v4 M376 321.9h4M378 319.9v4 M377 322.1h4M379 320.1v4 M378 313.6h4M380 311.6v4 M379 323.6h4M381 321.6v4 M380 321.8h4M382 319.8v4 M381 312h4M383 310v4 M382 327.3h4M384 325.3v4 M383 312.5h4M385 310.5v4 M384 310.1h4M386 308.1v4 M385 323.9h4M387 321.9v4 M386 320.8h4M388 318.8v4 M387 317.7h4M389 315.7v4 M388 306.6h4M390 304.6v4 M389 314.3h4M391 312.3v4 M390 318.1h4M392 316.1v4 M391 310.4h4M393 308.4v4 M392 306.4h4M394 304.4v4 M393 321h4M395 319v4 M394 310.6h4M396 308.6v4 M395 309.5h4M397 307.5v4 M396 305.9h4M398 303.9v4 M397 309h4M399 307v4 M398 320.6h4M400 318.6v4 M399 325.7h4M401 323.7v4 M400 319.8h4M402 317.8v4 M401 313.3h4M403 311.3v4 M402 311.7h4M404 309.7v4 M403 314.4h4M405 312.4v4 M404 312.6h4M406 310.6v4 M405 301.4h4M407 299.4v4 M406 304.9h4M408 302.9v4 M407 305.1h4M409 303.1v4 M408 312.3h4M410 310.3v4 M409 309h4M411 307v4 M410 316.8h4M412 314.8v4 M411 321.3h4M413 319.3v4 M412 323.2h4M414 321.2v4 M413 320.2h4M415 318.2v4 M414 324h4M416 322v4 M415 324.8h4M417 322.8v4 M416 326.3h4M418 324.3v4 M417 334h4M419 332v4 M418 338.1h4M420 336.1v4 M419 338.7h4M421 336.7v4 M420 329.1h4M422 327.1v4 M421 331.8h4M423 329.8v4 M422 342.2h4M424 340.2v4 M423 343.5h4M425 341.5v4 M424 344.7h4M426 342.7v4 M425 346.4h4M427 344.4v4 M426 346.9h4M428 344.9v4 M427 340.9h4M429 338.9v4 M428 341.3h4M430 339.3v4 M429 348.5h4M431 346.5v4 M430 356.6h4M432 354.6v4 M431 359.9h4M433 357.9v4 M432 351.2h4M434 349.2v4 M433 363.8h4M435 361.8v4 M434 370.7h4M436 368.7v4 M435 359.1h4M437 357.1v4 M436 376.2h4M438 374.2v4 M437 378.5h4M439 376.5v4 M438 378.3h4M440 376.3v4 M439 375.5h4M441 373.5v4 M440 395.1h4M442 393.1v4 M441 380.9h4M443 378.9v4 M442 400h4M444 398v4 M443 396.6h4M445 394.6v4 M444 386h4M446 384v4 M445 406.2h4M447 404.2v4 M446 401.2h4M448 399.2v4 M447 382.5h4M449 380.5v4 M448 377.5h4M450 375.5v4 M449 399.4h4M451 397.4v4 M450 393.7h4M452 391.7v4 M451 372.4h4M453 370.4v4 M452 389.9h4M454 387.9v4 M453 359.3h4M455 357.3v4 M454 364.8h4M456 362.8v4 M455 381h4M457 379v4 M456 350.6h4M458 348.6v4 M457 349.4h4M459 347.4v4 M458 378.5h4M460 376.5v4 M459 349.9h4M461 347.9v4 M460 352.9h4M462 350.9v4 M461 376.7h4M463 374.7v4 M462 370h4M464 368v4 M463 371.8h4M465 369.8v4 M464 360.2h4M466 358.2v4 M465 358.9h4M467 356.9v4 M466 321.1h4M468 319.1v4 M467 341.9h4M469 339.9v4 M468 333.7h4M470 331.7v4 M469 331h4M471 329v4 M470 308h4M472 306v4 M471 321.4h4M473 319.4v4 M472 316.4h4M474 314.4v4 M473 307.4h4M475 305.4v4 M474 297.5h4M476 295.5v4 M475 267.1h4M477 265.1v4 M476 279.2h4M478 277.2v4 M477 270.8h4M479 268.8v4 M478 261.8h4M480 259.8v4 M479 242.2h4M481 240.2v4 M480 257.3h4M482 255.3v4 M481 254.1h4M483 252.1v4 M482 253.5h4M484 251.5v4 M483 253.3h4M485 251.3v4 M484 253.5h4M486 251.5v4 M485 245.9h4M487 243.9v4 M486 250.9h4M488 248.9v4 M487 244.9h4M489 242.9v4 M488 234.2h4M490 232.2v4 M489 231.9h4M491 229.9v4 M490 233.3h4M492 231.3v4 M491 246.4h4M493 244.4v4 M492 243.4h4M494 241.4v4 M493 260.5h4M495 258.5v4 M494 236.9h4M496 234.9v4 M495 256.5h4M497 254.5v4 M496 231.9h4M498 229.9v4 M497 260.4h4M499 258.4v4 M498 264.4h4M500 262.4v4 M499 243.5h4M501 241.5v4 M500 246.5h4M502 244.5v4 M501 271.9h4M503 269.9v4 M502 271.7h4M504 269.7v4 M503 259.8h4M505 257.8v4 M504 264h4M506 262v4 M505 266.7h4M507 264.7v4 M506 260.5h4M508 258.5v4 M507 253.6h4M509 251.6v4 M508 281.2h4M510 279.2v4 M509 273.3h4M511 271.3v4 M510 267.1h4M512 265.1v4 M511 232h4M513 230v4 M512 221.9h4M514 219.9v4 M513 227.6h4M515 225.6v4 M514 212.6h4M516 210.6v4 M515 203.8h4M517 201.8v4 M516 212.3h4M518 210.3v4 M517 211.1h4M519 209.1v4 M518 196.1h4M520 194.1v4 M519 208.7h4M521 206.7v4 M520 189.4h4M522 187.4v4 M521 186.1h4M523 184.1v4 M522 183.6h4M524 181.6v4 M523 190.4h4M525 188.4v4 M524 175h4M526 173v4 M525 192h4M527 190v4 M526 167.7h4M528 165.7v4 M527 167h4M529 165v4 M528 180.5h4M530 178.5v4 M529 166.5h4M531 164.5v4 M530 162h4M532 160v4 M531 154.2h4M533 152.2v4 M532 156.5h4M534 154.5v4 M533 152.6h4M535 150.6v4 M534 165.6h4M536 163.6v4 M535 170.6h4M537 168.6v4 M536 168.7h4M538 166.7v4 M537 170.9h4M539 168.9v4 M538 161.4h4M540 159.4v4 M539 147.4h4M541 145.4v4 M540 167.1h4M542 165.1v4 M541 146.7h4M543 144.7v4 M542 158.3h4M544 156.3v4 M543 161h4M545 159v4 M544 149.3h4M546 147.3v4 M545 133.6h4M547 131.6v4 M546 144.9h4M548 142.9v4 M547 148.1h4M549 146.1v4 M548 140.8h4M550 138.8v4 M549 128.1h4M551 126.1v4 M550 161.6h4M552 159.6v4 M551 149.9h4M553 147.9v4 M552 142.9h4M554 140.9v4 M553 115.2h4M555 113.2v4 M554 122.1h4M556 120.1v4 M555 131h4M557 129v4 M556 133.2h4M558 131.2v4 M557 111.1h4M559 109.1v4 M558 133.9h4M560 131.9v4 M559 114.9h4M561 112.9v4 M560 127.7h4M562 125.7v4 M561 121.8h4M563 119.8v4 M562 108.5h4M564 106.5v4 M563 116.4h4M565 114.4v4 M564 124h4M566 122v4 M565 125.1h4M567 123.1v4 M566 120h4M568 118v4 M567 103.6h4M569 101.6v4 M568 117.1h4M570 115.1v4 M569 97.3h4M571 95.3v4 M570 123.8h4M572 121.8v4 M571 86.3h4M573 84.3v4 M572 92.3h4M574 90.3v4 M573 83.3h4M575 81.3v4 M574 84.3h4M576 82.3v4 M575 119.6h4M577 117.6v4 M576 115.2h4M578 113.2v4 M577 116h4M579 114v4 M578 78.7h4M580 76.7v4 M579 127.5h4M581 125.5v4 M580 128.3h4M582 126.3v4 M581 111.6h4M583 109.6v4 M582 128h4M584 126v4 M583 149h4M585 147v4 M584 127.9h4M586 125.9v4 M585 130.4h4M587 128.4v4 M586 184.4h4M588 182.4v4 M587 195.3h4M589 193.3v4 M588 188.1h4M590 186.1v4 M589 214h4M591 212v4 M590 208.9h4M592 206.9v4 M591 233.5h4M593 231.5v4 M592 222.5h4M594 220.5v4 M593 236.8h4M595 234.8v4 M594 235.5h4M596 233.5v4 M595 239.1h4M597 237.1v4 M596 240.1h4M598 238.1v4 M597 239h4M599 237v4 M598 228.6h4M600 226.6v4 M599 234.4h4M601 232.4v4 M600 239.4h4M602 237.4v4 M601 220.4h4M603 218.4v4 M602 243.3h4M604 241.3v4 M603 239.6h4M605 237.6v4 M604 237.5h4M606 235.5v4 M605 248.9h4M607 246.9v4 M606 219.7h4M608 217.7v4 M607 223.6h4M609 221.6v4 M608 246.4h4M610 244.4v4 M609 230.3h4M611 228.3v4 M610 229.7h4M612 227.7v4 M611 231.8h4M613 229.8v4 M612 249h4M614 247v4 M613 244.8h4M615 242.8v4 M614 249.2h4M616 247.2v4 M615 235.5h4M617 233.5v4 M616 254.5h4M618 252.5v4 M617 240.8h4M619 238.8v4 M618 257h4M620 255v4 M619 243.3h4M621 241.3v4 M620 241.9h4M622 239.9v4 M621 240.6h4M623 238.6v4 M622 243h4M624 241v4 M623 236.1h4M625 234.1v4 M624 264.8h4M626 262.8v4 M625 231.7h4M627 229.7v4 M626 229.5h4M628 227.5v4 M627 276.7h4M629 274.7v4 M628 241.2h4M630 239.2v4 M629 246.9h4M631 244.9v4 M630 249h4M632 247v4 M631 249.1h4M633 247.1v4 M632 275.2h4M634 273.2v4 M633 256.8h4M635 254.8v4 M634 276.9h4M636 274.9v4 M635 271.1h4M637 269.1v4 M636 256.8h4M638 254.8v4 M637 273.4h4M639 271.4v4 M638 272.3h4M640 270.3v4 M639 253h4M641 251v4 M640 244.6h4M642 242.6v4 M641 232.1h4M643 230.1v4 M642 222.2h4M644 220.2v4 M643 234.4h4M645 232.4v4 M644 205.8h4M646 203.8v4 M645 202.1h4M647 200.1v4 M646 210.2h4M648 208.2v4 M647 213.3h4M649 211.3v4 M648 215.9h4M650 213.9v4 M649 212.7h4M651 210.7v4 M650 219.6h4M652 217.6v4 M651 199.7h4M653 197.7v4 M652 224.7h4M654 222.7v4 M653 213.8h4M655 211.8v4 M654 230.9h4M656 228.9v4 M655 231.9h4M657 229.9v4 M656 220.1h4M658 218.1v4 M657 241.7h4M659 239.7v4 M658 243.2h4M660 241.2v4 M659 237.9h4M661 235.9v4 M660 240.5h4M662 238.5v4 M661 247h4M663 245v4 M662 252.5h4M664 250.5v4 M663 262h4M665 260v4 M664 267.6h4M666 265.6v4 M665 267.7h4M667 265.7v4 M666 271.5h4M668 269.5v4 M667 276.8h4M669 274.8v4 M668 279.1h4M670 277.1v4 M669 282.2h4M671 280.2v4 M670 295.8h4M672 293.8v4 M671 297.9h4M673 295.9v4 M672 291.1h4M674 289.1v4 M673 305.7h4M675 303.7v4 M674 293h4M676 291v4 M675 310.9h4M677 308.9v4 M676 309.7h4M678 307.7v4 M677 314.1h4M679 312.1v4 M678 293.9h4M680 291.9v4 M679 310.7h4M681 308.7v4 M680 292.3h4M682 290.3v4 M681 318.3h4M683 316.3v4 M682 306.3h4M684 304.3v4 M683 291.1h4M685 289.1v4 M684 319.8h4M686 317.8v4 M685 290.9h4M687 288.9v4 M686 315.3h4M688 313.3v4 M687 309.8h4M689 307.8v4 M688 294.2h4M690 292.2v4 M689 285.8h4M691 283.8v4 M690 293.5h4M692 291.5v4 M691 300.5h4M693 298.5v4 M692 317.5h4M694 315.5v4 M693 300.6h4M695 298.6v4 M694 317.5h4M696 315.5v4 M695 313.8h4M697 311.8v4 M696 317.8h4M698 315.8v4 M697 332.1h4M699 330.1v4 M698 334.5h4M700 332.5v4 M699 331.2h4M701 329.2v4 M700 343.2h4M702 341.2v4 M701 337.5h4M703 335.5v4 M702 345.9h4M704 343.9v4 M703 340.8h4M705 338.8v4 M704 354.3h4M706 352.3v4 M705 343.9h4M707 341.9v4 M706 360h4M708 358v4 M707 358.7h4M709 356.7v4 M708 347.6h4M710 345.6v4 M709 364.4h4M711 362.4v4 M710 359.2h4M712 357.2v4 M711 368.4h4M713 366.4v4 M712 373.6h4M714 371.6v4 M713 376.6h4M715 374.6v4 M714 379.6h4M716 377.6v4 M715 370.4h4M717 368.4v4 M716 383.6h4M718 381.6v4 M717 378h4M719 376v4 M718 375.9h4M720 373.9v4 M719 383.9h4M721 381.9v4 M720 379.4h4M722 377.4v4 M721 388.5h4M723 386.5v4 M722 382.2h4M724 380.2v4 M723 383h4M725 381v4 M724 386.5h4M726 384.5v4 M725 387.8h4M727 385.8v4 M726 388.7h4M728 386.7v4 M727 387.9h4M729 385.9v4 M728 393.9h4M730 391.9v4 M729 394.6h4M731 392.6v4 M730 397.5h4M732 395.5v4 M731 391.9h4M733 389.9v4 M732 396.5h4M734 394.5v4 M733 392.2h4M735 390.2v4 M734 399.1h4M736 397.1v4 M735 394.8h4M737 392.8v4 M736 400h4M738 398v4 M737 399h4M739 397v4 M738 397.3h4M740 395.3v4 M739 402.4h4M741 400.4v4 M740 396.8h4M742 394.8v4 M741 402.3h4M743 400.3v4 M742 397.7h4M744 395.7v4 M743 398h4M745 396v4 M744 398.5h4M746 396.5v4 M745 398h4M747 396v4 M746 403h4M748 401v4 M747 400.5h4M749 398.5v4 M748 399.1h4M750 397.1v4 M749 400.5h4M751 398.5v4 M65 204.5L65 169.5 M63 169.5h4M65 167.5v4 M78.4 118.5L78.4 100 M76.4 100h4M78.4 98v4 M87 117L87 97.5 M85 97.5h4M87 95.5v4 M95.5 119L95.5 103.5 M93.5 103.5h4M95.5 101.5v4 M93 119L93 151 M91 151h4M93 149v4 M183.6 302.9L183.6 328 M181.6 328h4M183.6 326v4 M195 266.5L195 302 M193 302h4M195 300v4 M211 162.5L211 181 M209 181h4M211 179v4 M225 150L225 180 M223 180h4M225 178v4 M232.3 111.4L232.3 110 M230.3 110h4M232.3 108v4 M269.5 134.1L269.5 162 M267.5 162h4M269.5 160v4 M303 206.5L303 232 M301 232h4M303 230v4 M384 319L384 332 M382 332h4M384 330v4 M446 395.2L446 418 M444 418h4M446 416v4 M464 359.4L464 395 M462 395h4M464 393v4 M510 264.8L510 322 M508 322h4M510 320v4 M532 170L532 226 M530 226h4M532 224v4 M640 267.5L640 316 M638 316h4M640 314v4 M578 95L578 65 M576 65h4M578 63v4 M650 201L650 178 M648 178h4M650 176v4 M680 305L680 331 M678 331h4M680 329v4 M691.6 300.2L691.6 281 M689.6 281h4M691.6 279v4 M683.8 307.1L683.8 291 M681.8 291h4M683.8 289v4 M607 231L607 208 M605 208h4M607 206v4 M629.5 255.5L629.5 220 M627.5 220h4M629.5 218v4 M623.5 252.7L623.5 272 M621.5 272h4M623.5 270v4 M74.5 143L74.5 225 M72.5 225h4M74.5 223v4 M74.5 143L74.5 112 M72.5 112h4M74.5 110v4" stroke="#000080" stroke-width="1" fill="none"/>
<rect x="335.5" y="25.5" width="204" height="20" fill="#CCCCFF" stroke="#000" stroke-width="1"/>
<path d="M339 35.5H365M351.5 34V37" stroke="#000080" stroke-width="1.2" fill="none"/>
<path d="M398 35.5H425" stroke="#0000FF" stroke-width="2.3" fill="none"/>
<path d="M466 35.5H493" stroke="#99CC00" stroke-width="2.6" fill="none"/>
</svg>
<div class="yl" style="top:4.8px">9000,00</div><div class="yl" style="top:64.8px">8000,00</div><div class="yl" style="top:124.8px">7000,00</div><div class="yl" style="top:184.8px">6000,00</div><div class="yl" style="top:244.8px">5000,00</div><div class="yl" style="top:304.8px">4000,00</div><div class="yl" style="top:364.8px">3000,00</div><div class="yl" style="top:424.8px">2000,00</div><div class="yl" style="top:484.8px">1000,00</div>
<div class="xl" style="right:717px;top:508px">12.13.2011</div><div class="xl" style="right:678.9px;top:508px">2.7.2011</div><div class="xl" style="right:640.9px;top:508px">4.1.2010</div><div class="xl" style="right:602.8px;top:508px">5.22.2009</div><div class="xl" style="right:564.8px;top:508px">7.11.2008</div><div class="xl" style="right:526.7px;top:508px">8.27.2007</div><div class="xl" style="right:488.6px;top:508px">10.12.2006</div><div class="xl" style="right:450.6px;top:508px">12.2.2005</div><div class="xl" style="right:412.5px;top:508px">1.26.2005</div><div class="xl" style="right:374.5px;top:508px">3.18.2004</div><div class="xl" style="right:336.4px;top:508px">5.8.2003</div><div class="xl" style="right:298.3px;top:508px">6.24.2002</div><div class="xl" style="right:260.3px;top:508px">8.7.2001</div><div class="xl" style="right:222.2px;top:508px">9.22.2000</div><div class="xl" style="right:184.2px;top:508px">11.12.1999</div><div class="xl" style="right:146.1px;top:508px">12.30.1998</div><div class="xl" style="right:108px;top:508px">2.13.1998</div><div class="xl" style="right:70px;top:508px">3.26.1997</div><div class="xl" style="right:31.9px;top:508px">5.9.1996</div>
<div id="title">DAX</div>
<div class="lg" style="left:367px">Close</div>
<div class="lg" style="left:427px">SMA50</div>
<div class="lg" style="left:494px">SMA200</div>
</body></html>
